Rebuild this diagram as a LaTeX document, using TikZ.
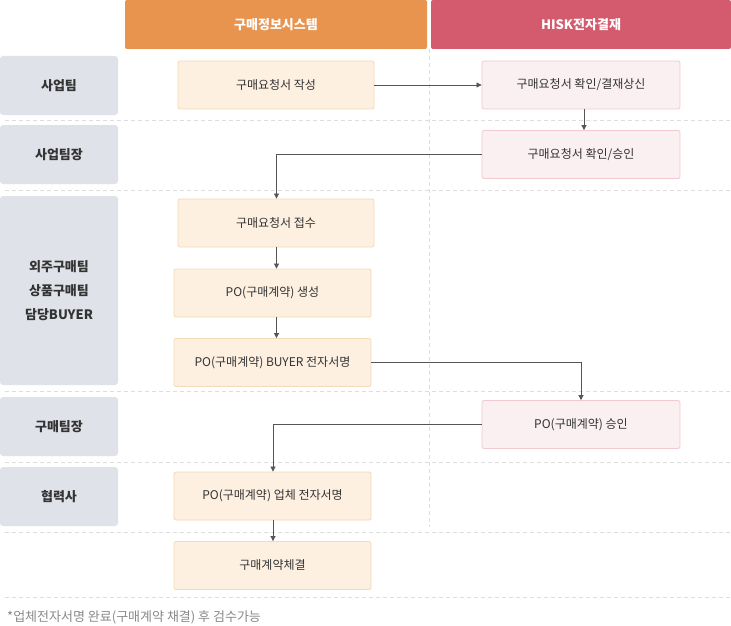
\documentclass[tikz,border=0pt]{standalone}
\usepackage{fontspec}
\setmainfont{Noto Sans CJK KR}
\usetikzlibrary{arrows.meta}
\definecolor{hdrA}{HTML}{E8944F}
\definecolor{hdrB}{HTML}{D45B6E}
\definecolor{lane}{HTML}{DFE2E9}
\definecolor{ofill}{HTML}{FDF0E1}
\definecolor{oline}{HTML}{F5D9B8}
\definecolor{pfill}{HTML}{FAEFF1}
\definecolor{pline}{HTML}{F3C9D0}
\definecolor{txt}{HTML}{333333}
\definecolor{arr}{HTML}{555555}
\definecolor{dash}{HTML}{DDDDDD}
\definecolor{note}{HTML}{888888}
\tikzset{
  hdr/.style={rounded corners=2pt, inner sep=0pt, text=white, font=\fontsize{13}{15}\selectfont\bfseries},
  lanebox/.style={fill=lane, rounded corners=3pt, inner sep=0pt, text=txt, font=\fontsize{13}{15}\selectfont\bfseries, align=center},
  obox/.style={draw=oline, fill=ofill, line width=0.8pt, rounded corners=2pt, minimum height=48pt, inner sep=0pt, text=txt, font=\fontsize{12}{14}\selectfont},
  pbox/.style={draw=pline, fill=pfill, line width=0.8pt, rounded corners=2pt, minimum width=198pt, minimum height=48pt, inner sep=0pt, text=txt, font=\fontsize{12}{14}\selectfont},
  flow/.style={draw=arr, line width=0.7pt, -{Triangle[length=5pt,width=5pt]}},
  sep/.style={draw=dash, line width=0.8pt, dash pattern=on 4pt off 3pt}
}
\begin{document}
\begin{tikzpicture}[x=1pt,y=-1pt]
\useasboundingbox (0,0) rectangle (731,626);
% separators
\foreach \yy in {120,190,391,462,532,597} \draw[sep] (5,\yy) -- (731,\yy);
\draw[sep] (429,49) -- (429,527);
% headers
\node[hdr, fill=hdrA, minimum width=302pt, minimum height=49pt] (h1) at (276,24.5) {구매정보시스템};
\node[hdr, fill=hdrB, minimum width=300pt, minimum height=49pt] (h2) at (581,24.5) {HISK전자결재};
% lanes
\node[lanebox, minimum width=118pt, minimum height=59pt] (l1) at (59,85.5) {사업팀};
\node[lanebox, minimum width=118pt, minimum height=59pt] (l2) at (59,154.5) {사업팀장};
\node[lanebox, minimum width=118pt, minimum height=189pt] (l3) at (59,290.5) {외주구매팀\\[9pt]상품구매팀\\[9pt]담당BUYER};
\node[lanebox, minimum width=118pt, minimum height=59pt] (l4) at (59,426.5) {구매팀장};
\node[lanebox, minimum width=118pt, minimum height=59pt] (l5) at (59,496.5) {협력사};
% process boxes
\node[obox, minimum width=196pt] (n1) at (276,85) {구매요청서 작성};
\node[pbox] (n2) at (581,85) {구매요청서 확인/결재상신};
\node[pbox] (n3) at (581,154.5) {구매요청서 확인/승인};
\node[obox, minimum width=196pt] (n4) at (276,223) {구매요청서 접수};
\node[obox, minimum width=197pt] (n5) at (272.5,293) {PO(구매계약) 생성};
\node[obox, minimum width=197pt] (n6) at (272.5,362.5) {PO(구매계약) BUYER 전자서명};
\node[pbox] (n7) at (581,424.5) {PO(구매계약) 승인};
\node[obox, minimum width=197pt] (n8) at (272.5,496) {PO(구매계약) 업체 전자서명};
\node[obox, minimum width=197pt] (n9) at (272.5,565.5) {구매계약체결};
% note
\node[anchor=west, inner sep=0pt, text=note, font=\fontsize{13}{15}\selectfont] (fn) at (7,617) {*업체전자서명 완료(구매계약 채결) 후 검수가능};
% connectors
\draw[flow] (n1.east) -- (n2.west);
\draw[flow] (n2.south -| 584,0) -- (n3.north -| 584,0);
\draw[flow] (n3.west) -| (n4.north -| 276.5,0);
\draw[flow] (n4.south -| 276.5,0) -- (n5.north -| 276.5,0);
\draw[flow] (n5.south -| 276.5,0) -- (n6.north -| 276.5,0);
\draw[flow] (n6.east) -| (n7.north -| 581,0);
\draw[flow] (n7.west) -| (n8.north -| 273,0);
\draw[flow] (n8.south -| 273,0) -- (n9.north -| 273,0);
\end{tikzpicture}
\end{document}
